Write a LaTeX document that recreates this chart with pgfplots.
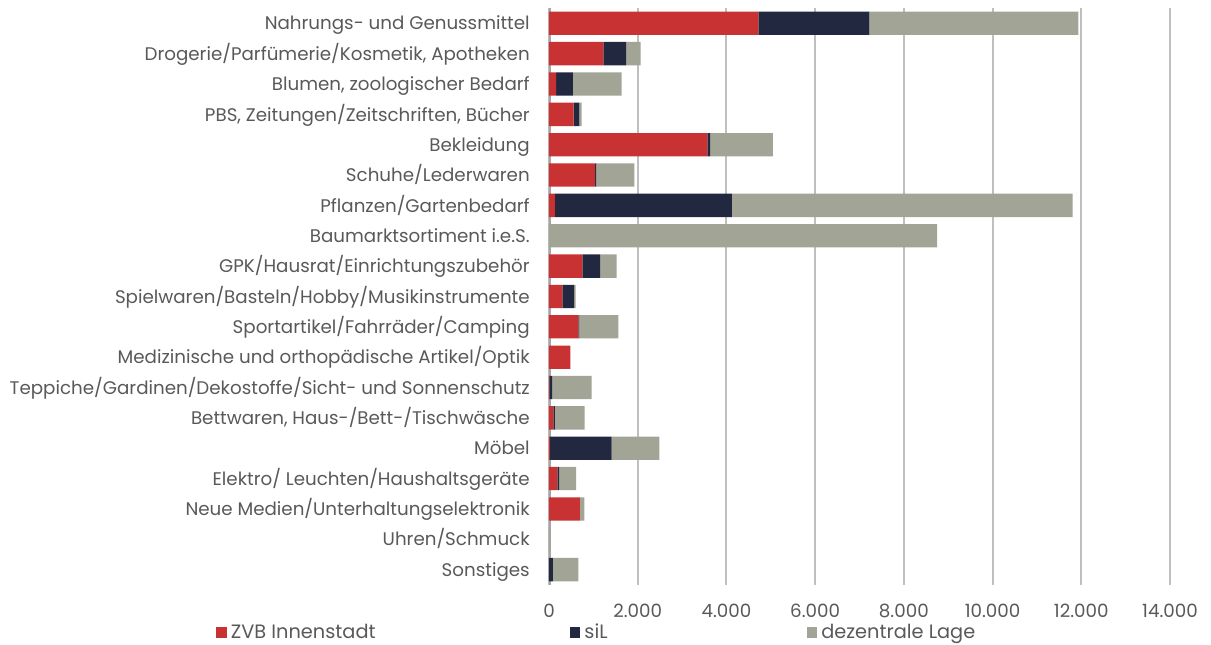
\documentclass[border=0pt]{standalone}
\usepackage{pgfplots}
\pgfplotsset{compat=1.18}
\usepackage{fontspec}
\setmainfont{Poppins}
\definecolor{cred}{HTML}{C83232}
\definecolor{cnavy}{HTML}{222840}
\definecolor{cgray}{HTML}{A2A595}
\definecolor{cgrid}{HTML}{BFBFBF}
\definecolor{caxis}{HTML}{A6A6A6}
\definecolor{ctext}{HTML}{595959}
% 1px of the reference = 0.75pt
\begin{document}
\begin{tikzpicture}[font=\fontsize{13.7}{16}\selectfont, text=ctext]
\useasboundingbox (-411.75pt,-45pt) rectangle (496.5pt,438.6pt);
\begin{axis}[at={(0pt,0pt)}, anchor=south west, scale only axis,
    width=465.75pt, height=432.5pt,
    xbar stacked, bar width=17.5pt,
    xmin=0, xmax=14000, ymin=-0.5, ymax=18.5, y dir=reverse,
    xtick={0,2000,...,14000},
    ytick={0,...,18},
    yticklabels={Nahrungs- und Genussmittel,
      {Drogerie/Parfümerie/Kosmetik, Apotheken},
      {Blumen, zoologischer Bedarf},
      {PBS, Zeitungen/Zeitschriften, Bücher},
      Bekleidung, Schuhe/Lederwaren, Pflanzen/Gartenbedarf,
      Baumarktsortiment i.e.S., GPK/Hausrat/Einrichtungszubehör,
      Spielwaren/Basteln/Hobby/Musikinstrumente,
      Sportartikel/Fahrräder/Camping,
      Medizinische und orthopädische Artikel/Optik,
      Teppiche/Gardinen/Dekostoffe/Sicht- und Sonnenschutz,
      {Bettwaren, Haus-/Bett-/Tischwäsche}, Möbel,
      Elektro/ Leuchten/Haushaltsgeräte,
      Neue Medien/Unterhaltungselektronik, Uhren/Schmuck, Sonstiges},
    axis line style={draw=none}, major tick length=0pt,
    xmajorgrids, major grid style={cgrid, line width=1.5pt},
    scaled x ticks=false,
    xticklabel style={/pgf/number format/1000 sep={.}, /pgf/number format/assume math mode=true,
      anchor=center, inner sep=0pt, yshift=-19.5pt, text=ctext},
    yticklabel style={anchor=base east, inner sep=0pt, xshift=-14.25pt, yshift=-5pt, text=ctext},
    legend columns=3,
    legend style={at={(-0.5362,-0.0825)}, anchor=west, draw=none, fill=none,
      inner sep=0pt, column sep=0pt, font=\fontsize{14.5}{16}\selectfont,
      nodes={inner sep=0pt, anchor=west, text=ctext}},
    legend image code/.code={\fill[#1] (0pt,-3.9pt) rectangle (7.9pt,3.9pt);},
  ]
  \addplot[fill=cred, draw=none] coordinates {
    (4720,0) (1226,1) (158,2) (557,3) (3572,4) (1038,5) (135,6) (0,7) (752,8)
    (301,9) (662,10) (481,11) (10,12) (97,13) (20,14) (187,15) (699,16) (0,17) (0,18)};
  \addlegendentry{\makebox[257.2pt][l]{\hspace{3.1pt}ZVB Innenstadt}}
  \addplot[fill=cnavy, draw=none] coordinates {
    (2500,0) (511,1) (383,2) (127,3) (60,4) (22,5) (3986,6) (0,7) (398,8)
    (263,9) (15,10) (0,11) (60,12) (38,13) (1394,14) (39,15) (0,16) (0,17) (90,18)};
  \addlegendentry{\makebox[169.8pt][l]{\hspace{3.1pt}siL}}
  \addplot[fill=cgray, draw=none] coordinates {
    (4712,0) (331,1) (1099,2) (53,3) (1414,4) (865,5) (7682,6) (8750,7) (377,8)
    (38,9) (887,10) (0,11) (890,12) (670,13) (1075,14) (383,15) (98,16) (25,17) (570,18)};
  \addlegendentry{\hspace{3.1pt}dezentrale Lage}
  \draw[caxis, line width=3pt] (axis cs:0,-0.5) -- (axis cs:0,18.5);
\end{axis}
\end{tikzpicture}
\end{document}
